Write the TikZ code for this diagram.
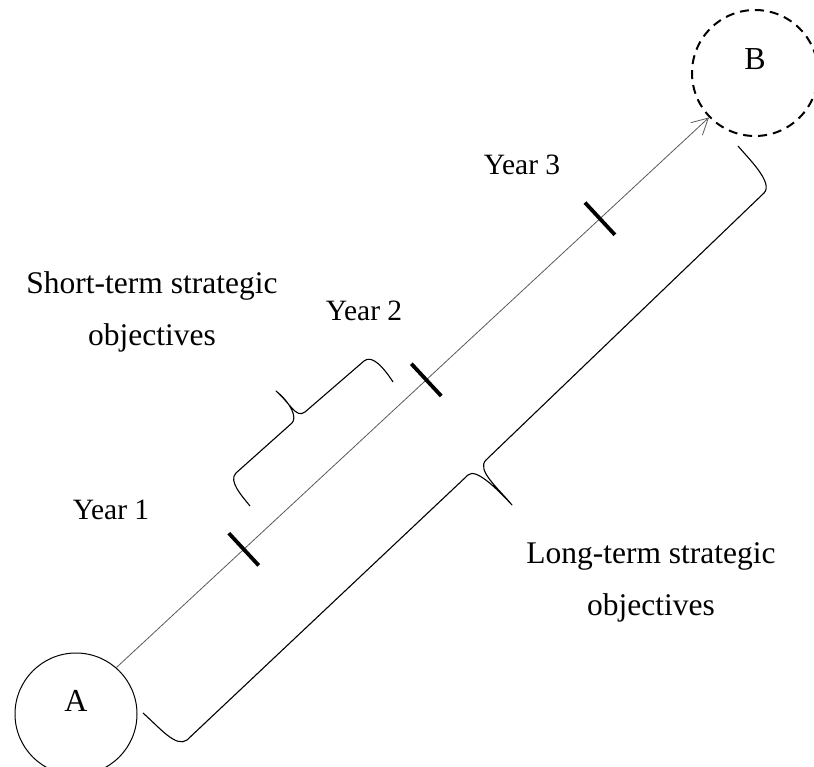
\documentclass[tikz,border=0pt]{standalone}
\usepackage{fontspec}
\setmainfont{Liberation Serif}
\usetikzlibrary{positioning, arrows.meta}

\tikzset{
  endpoint/.style={circle, draw, minimum size=#1, inner sep=0pt, line width=1pt,
    text height=10pt, text depth=16pt, font=\fontsize{32}{36}\selectfont},
  tickmark/.style={fill=black, sloped, inner sep=0pt, minimum width=3.8pt, minimum height=44pt},
  bracepath/.style={line width=1.1pt, line join=round},
  lbl/.style={align=center, anchor=base, font=\fontsize{31.5}{52}\selectfont},
  yearlbl/.style={anchor=base, font=\fontsize{29.5}{35}\selectfont}
}

\begin{document}
\begin{tikzpicture}[x=1pt, y=-1pt]
\useasboundingbox (0,0) rectangle (814,767);
\node[endpoint=122pt] (A) at (76,714) {A};
\node[endpoint=126pt, line width=2pt, dash pattern=on 9pt off 6pt] (B) at (755,73) {B};
\draw[gray!70!black, line width=0.8pt, -{Straight Barb[length=16pt, width=17pt, line width=0.8pt]}] (A.49) -- (B.224)
  node[tickmark, pos=0.215] (t1) {}
  node[tickmark, pos=0.523] (t2) {}
  node[tickmark, pos=0.816] (t3) {};
%short-term brace
\draw[bracepath] (250,506) .. controls (242,496) and (228,481) .. (236,473) -- (292,423)
  .. controls (297,418) and (292,404) .. (276,391)
  .. controls (290,403) and (296,419) .. (305,412) -- (364,361)
  .. controls (372,354) and (384,368) .. (393,382);
%long-term brace
\draw[bracepath] (143,713) .. controls (160,728) and (176,748) .. (187,740) -- (468,475)
  .. controls (476,467) and (500,492) .. (512,505)
  .. controls (498,488) and (476,470) .. (486,460) -- (764,193)
  .. controls (774,183) and (748,158) .. (738,146);
\node[lbl] (short) at (152,345) {Short-term strategic\\objectives};
\node[lbl] (long) at (651,615) {Long-term strategic\\objectives};
\node[yearlbl] (y1) at (111,519) {Year 1};
\node[yearlbl] (y2) at (364,321) {Year 2};
\node[yearlbl] (y3) at (522,175) {Year 3};
\end{tikzpicture}
\end{document}
